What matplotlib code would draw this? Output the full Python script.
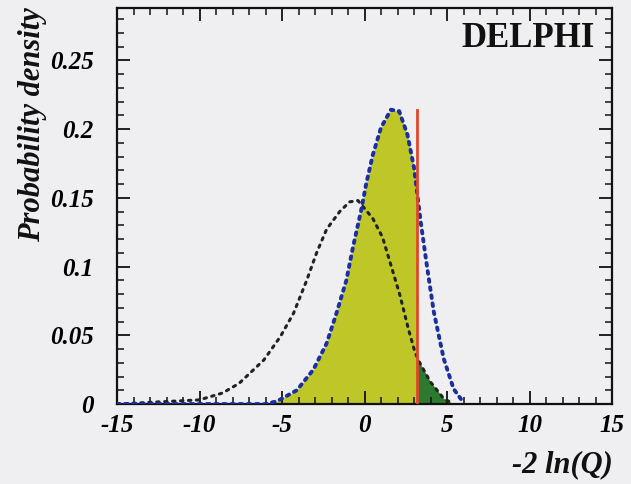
import matplotlib
matplotlib.use('Agg')
import matplotlib.pyplot as plt
from matplotlib.patches import Rectangle
from matplotlib.ticker import MultipleLocator

# -2 ln(Q) distributions
x_sb = [-15, -6.0, -5.3, -4.1, -3.1, -2.3, -1.7, -1.1, -0.7, -0.2, 0.1, 0.5, 1.0,
        1.6, 2.1, 2.6, 3.0, 3.4, 3.8, 4.2, 4.8, 5.4, 6.0]
y_sb = [0.0, 0.0, 0.002, 0.010, 0.025, 0.044, 0.066, 0.090, 0.114, 0.141, 0.160, 0.181, 0.201,
        0.214, 0.213, 0.196, 0.172, 0.133, 0.099, 0.067, 0.033, 0.011, 0.001]

x_b = [-15, -10.0, -8.6, -7.6, -6.1, -5.1, -4.3, -3.5, -2.9, -2.3, -1.5, -0.9, -0.4,
       0.5, 1.1, 1.65, 2.15, 2.65, 3.05, 3.3, 4.0, 4.8, 5.4]
y_b = [0.0, 0.003, 0.008, 0.015, 0.032, 0.049, 0.066, 0.090, 0.110, 0.127, 0.140, 0.147, 0.148,
       0.135, 0.121, 0.099, 0.079, 0.055, 0.038, 0.031, 0.016, 0.004, 0.0]

x_obs = 3.2
obs_height = 0.214

xticks = [-15, -10, -5, 0, 5, 10, 15]
xtick_labels = ['-15', '-10', '-5', '0', '5', '10', '15']
yticks = [0, 0.05, 0.1, 0.15, 0.2, 0.25]
ytick_labels = ['0', '0.05', '0.1', '0.15', '0.2', '0.25']

bg = '#efeff1'
serif = ['Liberation Serif', 'DejaVu Serif']

fig = plt.figure(figsize=(6.31, 4.84), dpi=100, facecolor=bg)
ax = fig.add_axes([117/631, 80/484, 495/631, 396/484], facecolor=bg)

ax.set_xlim(-15, 15)
ax.set_ylim(0, 0.288)

# shaded areas: s+b left of observed, b right of observed
fill_sb = ax.fill_between(x_sb, y_sb, color='#bfc728', lw=0, zorder=1)
fill_sb.set_clip_path(Rectangle((-15, 0), x_obs + 15, 1, transform=ax.transData))
fill_b = ax.fill_between(x_b, y_b, color='#2c7a30', lw=0, zorder=1)
fill_b.set_clip_path(Rectangle((x_obs, 0), 15 - x_obs, 1, transform=ax.transData))

ax.plot(x_b, y_b, color='#222222', lw=2.2, ls=(0, (0.8, 1.8)), dash_capstyle='round', zorder=3)
ax.plot(x_sb, y_sb, color='#1c2fa0', lw=2.8, ls=(0, (0.7, 1.4)), dash_capstyle='round', zorder=3)
ax.plot([x_obs, x_obs], [0, obs_height], color='#e0462a', lw=2, zorder=4)

ax.set_xticks(xticks)
ax.set_xticklabels(xtick_labels)
ax.set_yticks(yticks)
ax.set_yticklabels(ytick_labels)
ax.xaxis.set_minor_locator(MultipleLocator(1))
ax.yaxis.set_minor_locator(MultipleLocator(0.01))
ax.tick_params(which='both', direction='in', top=True, right=True, color='#111111')
ax.tick_params(which='major', length=9.5, width=1.3)
ax.tick_params(which='minor', length=5, width=1.1)
ax.tick_params(axis='x', which='major', pad=7)
ax.tick_params(axis='y', which='major', pad=17)
for lab in ax.get_xticklabels() + ax.get_yticklabels():
    lab.set_family(serif)
    lab.set_fontsize(18)
    lab.set_fontweight('bold')
    lab.set_fontstyle('italic')
for sp in ax.spines.values():
    sp.set_linewidth(1.6)
    sp.set_color('#111111')

ax.text(0.965, 0.965, 'DELPHI', transform=ax.transAxes, ha='right', va='top',
        family=serif, fontsize=25, fontweight='bold', color='#111111')

fig.text(33/631, 1 - 125/484, 'Probability density', rotation=90, ha='center', va='center',
         family=serif, fontsize=22, fontweight='bold', fontstyle='italic', color='#111111')
fig.text(613/631, 1 - 465/484, '-2 ln(Q)', ha='right', va='center',
         family=serif, fontsize=22, fontweight='bold', fontstyle='italic', color='#111111')

fig.savefig('out.png', dpi=100, facecolor=bg)
